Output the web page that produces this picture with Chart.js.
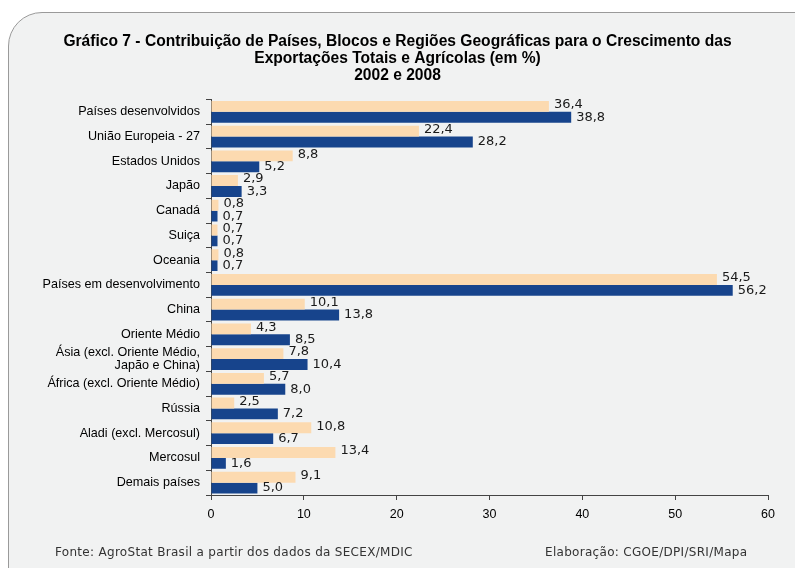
<!DOCTYPE html>
<html>
<head>
<meta charset="utf-8">
<script src="https://cdn.jsdelivr.net/npm/chart.js@4/dist/chart.umd.min.js"></script>
<style>
  html, body { margin: 0; padding: 0; background: #fff; overflow: hidden; }
  #panel {
    position: absolute; left: 8px; top: 12px; width: 830px; height: 590px;
    border: 1px solid #9a9a9a; border-radius: 34px; background: #f1f2f2;
  }
  #wrap { position: absolute; left: 0; top: 0; width: 795px; height: 568px; }
</style>
</head>
<body>
<div id="panel"></div>
<div id="wrap"><canvas id="chart" width="795" height="568"></canvas></div>
<script>
const categories = [
  "Países desenvolvidos",
  "União Europeia - 27",
  "Estados Unidos",
  "Japão",
  "Canadá",
  "Suiça",
  "Oceania",
  "Países em desenvolvimento",
  "China",
  "Oriente Médio",
  ["Ásia (excl. Oriente Médio,", "Japão e China)"],
  "África (excl. Oriente Médio)",
  "Rússia",
  "Aladi (excl. Mercosul)",
  "Mercosul",
  "Demais países"
];
const values2002 = [36.4, 22.4, 8.8, 2.9, 0.8, 0.7, 0.8, 54.5, 10.1, 4.3, 7.8, 5.7, 2.5, 10.8, 13.4, 9.1];
const values2008 = [38.8, 28.2, 5.2, 3.3, 0.7, 0.7, 0.7, 56.2, 13.8, 8.5, 10.4, 8.0, 7.2, 6.7, 1.6, 5.0];
const xTicks = [0, 10, 20, 30, 40, 50, 60];

const titleLines = [
  "Gráfico 7 - Contribuição de Países, Blocos e Regiões Geográficas para o Crescimento das",
  "Exportações Totais e Agrícolas (em %)",
  "2002 e 2008"
];
const sourceText = "Fonte: AgroStat Brasil a partir dos dados da SECEX/MDIC";
const creditText = "Elaboração: CGOE/DPI/SRI/Mapa";

const FONT = "'Liberation Sans', Arial, sans-serif";

// value labels at the end of each bar, decimal comma
const barLabels = {
  id: "barLabels",
  afterDatasetsDraw(chart) {
    const ctx = chart.ctx;
    ctx.save();
    ctx.font = "13px 'DejaVu Sans', sans-serif";
    ctx.fillStyle = "#1a1a1a";
    ctx.textAlign = "left";
    ctx.textBaseline = "middle";
    chart.data.datasets.forEach((ds, i) => {
      const meta = chart.getDatasetMeta(i);
      meta.data.forEach((bar, j) => {
        const txt = ds.data[j].toFixed(1).replace(".", ",");
        const dy = i === 0 ? -1.5 : 0;
        ctx.fillText(txt, bar.x + 5, bar.y + dy);
      });
    });
    ctx.restore();
  }
};

// footer notes
const footer = {
  id: "footer",
  afterDraw(chart) {
    const ctx = chart.ctx;
    ctx.save();
    ctx.font = "12px 'DejaVu Sans', sans-serif";
    ctx.fillStyle = "#333";
    ctx.textBaseline = "middle";
    ctx.textAlign = "left";
    ctx.letterSpacing = "0.3px";
    ctx.fillText(sourceText, 55, 553);
    ctx.fillText(creditText, 545, 553);
    ctx.restore();
  }
};

new Chart(document.getElementById("chart").getContext("2d"), {
  type: "bar",
  data: {
    labels: categories,
    datasets: [
      {
        label: "2002",
        data: values2002,
        backgroundColor: "#fcdab0",
        categoryPercentage: 0.88,
        barPercentage: 1.0
      },
      {
        label: "2008",
        data: values2008,
        backgroundColor: "#17448c",
        categoryPercentage: 0.88,
        barPercentage: 1.0
      }
    ]
  },
  options: {
    indexAxis: "y",
    responsive: false,
    animation: false,
    layout: { padding: { left: 0, right: 0, top: 0, bottom: 43 } },
    plugins: {
      legend: { display: false },
      tooltip: { enabled: false },
      title: {
        display: true,
        text: titleLines,
        color: "#000",
        font: { family: FONT, size: 15.6, weight: "bold", lineHeight: 1.1 },
        padding: { top: 33, bottom: 15 }
      }
    },
    scales: {
      x: {
        min: 0,
        max: 60,
        afterBuildTicks(scale) {
          scale.ticks = xTicks.map(v => ({ value: v }));
        },
        afterFit(scale) { scale.height = 30; },
        grid: {
          drawOnChartArea: false,
          drawTicks: true,
          tickLength: 5,
          color: "#444"
        },
        border: { display: true, color: "#444", width: 1 },
        ticks: {
          color: "#000",
          padding: 7,
          font: { family: FONT, size: 12.5 }
        }
      },
      y: {
        afterFit(scale) { scale.width = 211; },
        grid: {
          offset: true,
          drawOnChartArea: false,
          drawTicks: true,
          tickLength: 5,
          color: "#444"
        },
        border: { display: true, color: "#444", width: 1 },
        ticks: {
          color: "#000",
          padding: 6,
          autoSkip: false,
          font: { family: FONT, size: 12.6, lineHeight: 1.1 }
        }
      },
      // empty right-hand gutter so the title stays centred on the page
      yRight: {
        type: "category",
        position: "right",
        afterFit(scale) { scale.width = 27; },
        grid: { display: false },
        border: { display: false },
        ticks: { display: false }
      }
    }
  },
  plugins: [barLabels, footer]
});
</script>
</body>
</html>
